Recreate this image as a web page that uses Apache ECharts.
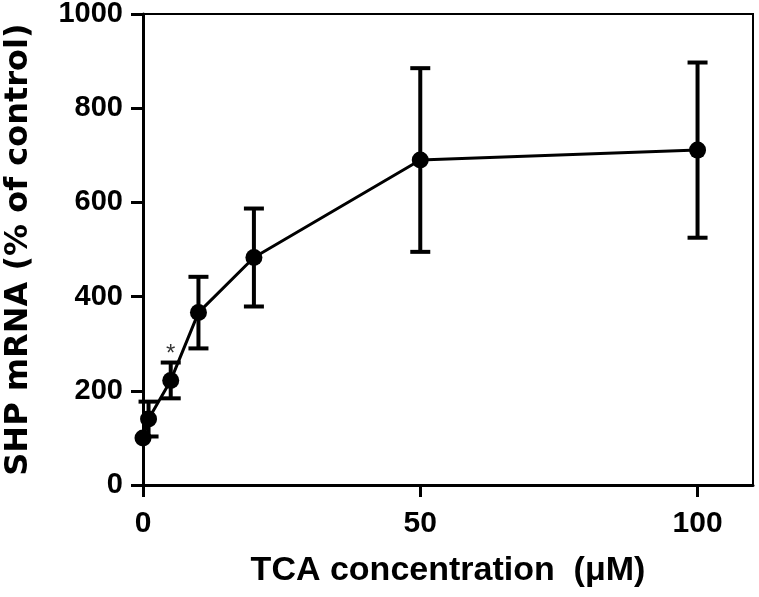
<!DOCTYPE html>
<html>
<head>
<meta charset="utf-8">
<script src="https://cdn.jsdelivr.net/npm/echarts@6/dist/echarts.min.js"></script>
<style>html,body{margin:0;padding:0;background:#fff;}#c{width:759px;height:597px;}</style>
</head>
<body>
<div id="c"></div>
<script>
const concentrations = [0, 1, 5, 10, 20, 50, 100];
const meanValues = [100, 140, 222, 366, 483, 690, 711];
const errorValues = [0, 37, 38, 76, 104, 195, 186];
const xTicks = [0, 50, 100];
const yTicks = [0, 200, 400, 600, 800, 1000];
const significance = [{x: 5, label: '*'}];

const sansBold = "'Liberation Sans', Arial, sans-serif";
const wide = "'DejaVu Sans', 'Liberation Sans', sans-serif";

const chart = echarts.init(document.getElementById('c'));
const meanData = concentrations.map((c, i) => [c, meanValues[i]]);
const errData = concentrations.map((c, i) => [c, meanValues[i] - errorValues[i], meanValues[i] + errorValues[i]]);
const starData = significance.map(s => {
  const i = concentrations.indexOf(s.x);
  return {value: [s.x, meanValues[i] + errorValues[i]], label: {formatter: s.label}};
});

chart.setOption({
  animation: false,
  grid: {left: 143, right: 6, top: 14, bottom: 112, show: true, borderColor: '#000', borderWidth: 2,
    containLabel: false, outerBoundsMode: 'none'},
  xAxis: {
    type: 'value', min: 0, max: 110,
    name: 'TCA concentration  (\u03bcM)', nameLocation: 'middle', nameGap: 69,
    nameTextStyle: {fontFamily: sansBold, fontWeight: 'bold', fontSize: 34, color: '#000'},
    axisLine: {show: true, lineStyle: {color: '#000', width: 3}},
    axisTick: {show: true, length: 12, lineStyle: {color: '#000', width: 3}, customValues: xTicks},
    axisLabel: {customValues: xTicks, fontFamily: sansBold, fontWeight: 'bold', fontSize: 30, color: '#000', margin: 24,
      formatter: v => String(v)},
    splitLine: {show: false}
  },
  yAxis: {
    type: 'value', min: 0, max: 1000, interval: 200,
    name: 'SHP mRNA (% of control)', nameLocation: 'middle', nameGap: 108, nameRotate: 90,
    nameTextStyle: {fontFamily: wide, fontWeight: 'bold', fontSize: 32, color: '#000'},
    axisLine: {show: true, lineStyle: {color: '#000', width: 3}},
    axisTick: {show: true, length: 12, lineStyle: {color: '#000', width: 3}, customValues: yTicks},
    axisLabel: {customValues: yTicks, fontFamily: sansBold, fontWeight: 'bold', fontSize: 29, color: '#000', margin: 20,
      formatter: v => String(v)},
    splitLine: {show: false}
  },
  series: [
    {
      type: 'custom',
      data: errData,
      z: 3,
      renderItem: function (params, api) {
        const x = api.value(0), lo = api.value(1), hi = api.value(2);
        if (hi === lo) return null;
        const pLo = api.coord([x, lo]);
        const pHi = api.coord([x, hi]);
        const hw = 10;
        const style = {stroke: '#000', lineWidth: 4};
        return {
          type: 'group',
          children: [
            {type: 'line', shape: {x1: pLo[0], y1: pLo[1], x2: pHi[0], y2: pHi[1]}, style: style},
            {type: 'line', shape: {x1: pLo[0] - hw, y1: pLo[1], x2: pLo[0] + hw, y2: pLo[1]}, style: style},
            {type: 'line', shape: {x1: pHi[0] - hw, y1: pHi[1], x2: pHi[0] + hw, y2: pHi[1]}, style: style}
          ]
        };
      }
    },
    {
      type: 'line',
      data: meanData,
      z: 4,
      symbol: 'circle',
      symbolSize: 17,
      itemStyle: {color: '#000'},
      lineStyle: {color: '#000', width: 3}
    },
    {
      type: 'scatter',
      data: starData,
      symbolSize: 0,
      z: 5,
      label: {show: true, position: 'top', distance: -4, fontFamily: sansBold, fontSize: 24, color: '#000'}
    }
  ]
});
</script>
</body>
</html>
